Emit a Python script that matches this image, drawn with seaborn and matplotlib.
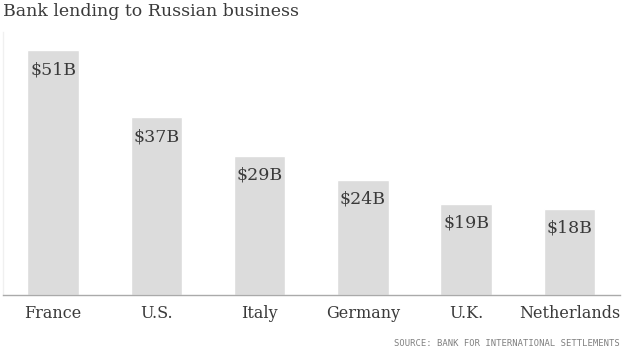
import pandas as pd
import matplotlib.pyplot as plt
import seaborn as sns

countries = ["France", "U.S.", "Italy", "Germany", "U.K.", "Netherlands"]
lending = [51, 37, 29, 24, 19, 18]
labels = ["$51B", "$37B", "$29B", "$24B", "$19B", "$18B"]

df = pd.DataFrame({"country": countries, "lending": lending})

sns.set_style("white")
plt.rcParams["font.family"] = ["DejaVu Serif"]

fig = plt.figure(figsize=(6.25, 3.53), dpi=100)
ax = fig.add_axes([3 / 625, 58 / 353, 617 / 625, 263 / 353])

sns.barplot(data=df, x="country", y="lending", color="#dcdcdc",
            saturation=1, width=0.5, ax=ax)

# value labels inside the bars near the top
for i, (v, lab) in enumerate(zip(lending, labels)):
    ax.annotate(lab, xy=(i, v), xytext=(0, -14), textcoords="offset points",
                ha="center", va="center", fontsize=12.5, color="#3a3a3a")

ax.set_xlim(-0.485, 5.49)
ax.set_ylim(0, 54.8)
ax.set_xlabel("")
ax.set_ylabel("")
ax.set_yticks([])
ax.tick_params(axis="x", length=0, pad=7.5, labelsize=11.5, labelcolor="#3a3a3a")

for side in ["top", "right"]:
    ax.spines[side].set_visible(False)
ax.spines["bottom"].set_color("#aaaaaa")
ax.spines["bottom"].set_linewidth(1)
ax.spines["left"].set_color("#f0f0f0")
ax.spines["left"].set_linewidth(1)

fig.text(3 / 625, 1 - 12 / 353, "Bank lending to Russian business",
         ha="left", va="center", fontsize=12.5, color="#3a3a3a")
fig.text(620 / 625, 1 - 343 / 353, "SOURCE: BANK FOR INTERNATIONAL SETTLEMENTS",
         ha="right", va="center", fontsize=6.4, color="#808080",
         family="DejaVu Sans Mono")

plt.savefig("out.png", dpi=100)
